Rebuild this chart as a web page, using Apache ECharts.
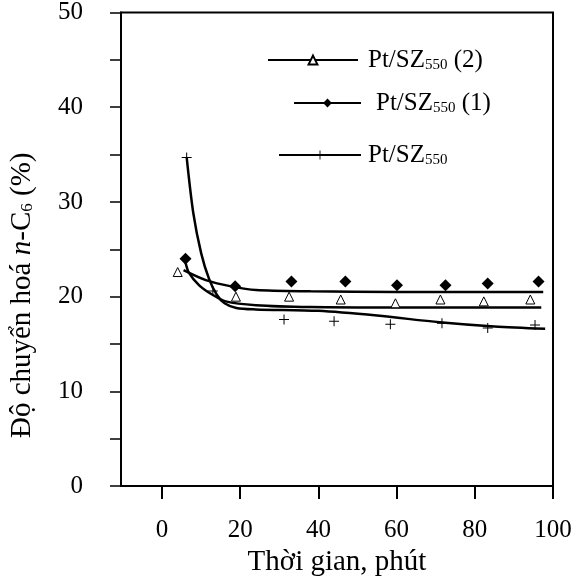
<!DOCTYPE html>
<html>
<head>
<meta charset="utf-8">
<script src="https://cdn.jsdelivr.net/npm/echarts@6/dist/echarts.min.js"></script>
<style>html,body{margin:0;padding:0;background:#fff}#c{width:580px;height:582px}</style>
</head>
<body>
<div id="c"></div>
<script>
// ---- data ----
const xTicks = [0, 20, 40, 60, 80, 100];
const seriesNames = ['Pt/SZ550 (2)', 'Pt/SZ550 (1)', 'Pt/SZ550'];

// measured points
const tri_t  = [4, 18.9, 32.5, 45.7, 59.7, 71.2, 82.3, 94.2];
const tri_v  = [22.6, 20.0, 20.0, 19.7, 19.3, 19.7, 19.5, 19.7];
const dia_t  = [6, 18.7, 33.1, 46.9, 60.1, 72.5, 83.3, 96.3];
const dia_v  = [24.0, 21.1, 21.6, 21.6, 21.2, 21.2, 21.4, 21.6];
const plus_t = [6.3, 13, 31.2, 44, 58.4, 71.6, 83.3, 95.4];
const plus_v = [34.7, 20.6, 17.6, 17.4, 17.1, 17.2, 16.7, 17.0];

// fitted curves (as drawn)
const fitA_t = [5.5, 11.2, 18.0, 24.0, 38, 60, 80, 97.5];
const fitA_v = [22.8, 21.75, 21.06, 20.7, 20.57, 20.5, 20.5, 20.5];
const fitB_t = [5.9, 6.9, 9.5, 12.9, 16.3, 24.0, 38, 60, 80, 97];
const fitB_v = [23.8, 22.5, 21.2, 20.2, 19.5, 19.1, 18.9, 18.85, 18.85, 18.85];
const fitC_t = [6.3, 8, 10, 12, 14, 16, 19, 24, 40, 55, 71, 85, 98];
const fitC_v = [34.7, 28.8, 24.6, 21.9, 20.2, 19.3, 18.8, 18.65, 18.5, 18.0, 17.3, 16.85, 16.6];

const zip = (a, b) => a.map((v, i) => [v, b[i]]);
const FONT = "'Liberation Serif', 'Times New Roman', serif";
const plusPath = 'path://M4.5,0h1v10h-1z M0,4.5h10v1h-10z';

const legendRich = {
  a: { fontFamily: FONT, fontSize: 25, color: '#000', lineHeight: 26 },
  s: { fontFamily: FONT, fontSize: 15, color: '#000', padding: [10, 0, 0, 0] }
};
function legendFmt(name) {
  const rest = name.replace('Pt/SZ550', '');
  return '{a|Pt/SZ}{s|550}' + (rest ? '{a|' + rest + '}' : '');
}
function mkLegend(name, left, top, w, padL) {
  return {
    data: [name], left: left, top: top, itemWidth: w, itemHeight: 11, padding: 0,
    selectedMode: false, formatter: legendFmt,
    textStyle: { fontFamily: FONT, fontSize: 25, color: '#000', lineHeight: 26, padding: [0, 0, 0, padL], rich: legendRich }
  };
}

const chart = echarts.init(document.getElementById('c'), null, { renderer: 'canvas' });
chart.setOption({
  animation: false,
  backgroundColor: '#fff',
  grid: { left: 120, right: 27, top: 12.5, bottom: 93, show: true, borderColor: '#000', borderWidth: 2, backgroundColor: 'transparent' },
  legend: [
    mkLegend(seriesNames[0], 267, 47, 90, 5),
    mkLegend(seriesNames[1], 293, 90, 67, 10),
    mkLegend(seriesNames[2], 278, 142, 82, 2)
  ],
  xAxis: {
    type: 'value', min: -10.5, max: 100,
    name: 'Thời gian, phút', nameLocation: 'middle', nameGap: 61,
    nameTextStyle: { fontFamily: FONT, fontSize: 29, color: '#000', lineHeight: 29 },
    axisLine: { show: true, lineStyle: { color: '#000', width: 2 } },
    axisTick: { show: true, length: 13, customValues: xTicks, lineStyle: { color: '#000', width: 2 } },
    axisLabel: { customValues: xTicks, margin: 32, fontFamily: FONT, fontSize: 25, color: '#000' },
    splitLine: { show: false }
  },
  yAxis: {
    type: 'value', min: 0, max: 50, interval: 10,
    name: '{a|Độ chuyển hoá }{i|n}{a|-C}{s|6}{a| (%)}',
    nameLocation: 'middle', nameGap: 84, nameRotate: 90,
    nameTextStyle: {
      fontFamily: FONT, fontSize: 29, color: '#000', padding: [0, 92, 0, 0],
      rich: {
        a: { fontFamily: FONT, fontSize: 29, color: '#000' },
        i: { fontFamily: FONT, fontSize: 29, color: '#000', fontStyle: 'italic' },
        s: { fontFamily: FONT, fontSize: 17, color: '#000', padding: [11, 0, 0, 0] }
      }
    },
    axisLine: { show: true, onZero: false, lineStyle: { color: '#000', width: 2 } },
    axisTick: { show: true, length: 11, lineStyle: { color: '#000', width: 1.5 } },
    minorTick: { show: true, splitNumber: 2, length: 11, lineStyle: { color: '#000', width: 1.5 } },
    axisLabel: { margin: 38, fontFamily: FONT, fontSize: 25, color: '#000' },
    splitLine: { show: false }, minorSplitLine: { show: false }
  },
  series: [
    { name: seriesNames[0], type: 'line', data: zip(fitA_t, fitA_v), smooth: 0.3,
      symbol: 'emptyTriangle', showSymbol: false, color: '#000', lineStyle: { color: '#000', width: 2.5 } },
    { name: seriesNames[1], type: 'line', data: zip(fitB_t, fitB_v), smooth: 0.3,
      symbol: 'diamond', showSymbol: false, color: '#000', lineStyle: { color: '#000', width: 2.5 } },
    { name: seriesNames[2], type: 'line', data: zip(fitC_t, fitC_v), smooth: 0.3,
      symbol: plusPath, showSymbol: false, color: '#000', lineStyle: { color: '#000', width: 2.5 } },
    { name: seriesNames[0], type: 'scatter', data: zip(tri_t, tri_v), symbol: 'triangle', symbolSize: 9,
      itemStyle: { color: '#fff', borderColor: '#000', borderWidth: 1, opacity: 1 }, z: 3 },
    { name: seriesNames[1], type: 'scatter', data: zip(dia_t, dia_v), symbol: 'diamond', symbolSize: 12,
      itemStyle: { color: '#000', opacity: 1 }, z: 3 },
    { name: seriesNames[2], type: 'scatter', data: zip(plus_t, plus_v), symbol: plusPath, symbolSize: [10, 10],
      itemStyle: { color: '#000', opacity: 1 }, z: 3 }
  ]
});
</script>
</body>
</html>
